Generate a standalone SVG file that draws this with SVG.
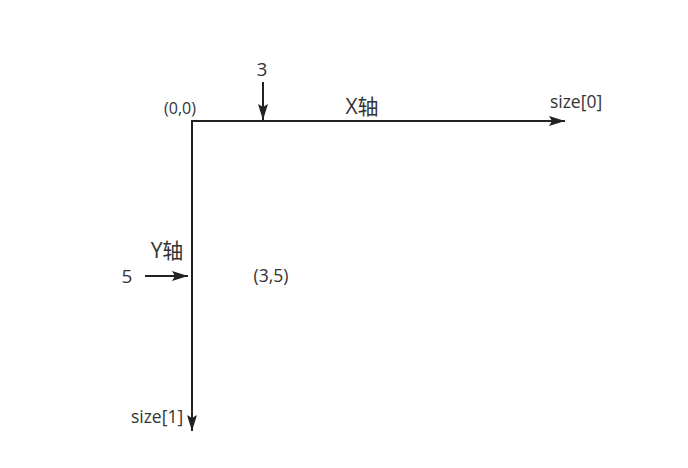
<svg xmlns="http://www.w3.org/2000/svg" width="688" height="468" viewBox="0 0 688 468">
<style>
.t{font-family:"Open Sans","Noto Sans CJK SC",sans-serif;fill:#333}
.l{stroke:#222;stroke-width:2;fill:none}
</style>
<defs>
<marker id="ah" viewBox="0 0 16 10" refX="16" refY="5" markerWidth="16" markerHeight="10" markerUnits="userSpaceOnUse" orient="auto">
<path d="M0,0 L16,5 L0,10 L3,5 Z" fill="#222"/>
</marker>
</defs>
<rect width="688" height="468" fill="#fff"/>
<g id="connectors">
<path class="l" d="M192,121 H565" marker-end="url(#ah)"/>
<path class="l" d="M192,120 V431" marker-end="url(#ah)"/>
<path class="l" d="M263,82 V120" marker-end="url(#ah)"/>
<path class="l" d="M145,276 H188" marker-end="url(#ah)"/>
</g>
<g id="labels">
<text class="t" x="262" y="76" font-size="19" text-anchor="middle">3</text>
<text class="t" x="180" y="114" font-size="16" text-anchor="middle">(0,0)</text>
<text class="t" x="362" y="114" font-size="21" text-anchor="middle">X轴</text>
<text class="t" x="576" y="108" font-size="17.5" text-anchor="middle">size[0]</text>
<text class="t" x="167" y="258" font-size="21" text-anchor="middle">Y轴</text>
<text class="t" x="127" y="283" font-size="19" text-anchor="middle">5</text>
<text class="t" x="271" y="282" font-size="17.5" text-anchor="middle">(3,5)</text>
<text class="t" x="157" y="423" font-size="17.5" text-anchor="middle">size[1]</text>
</g>
</svg>
